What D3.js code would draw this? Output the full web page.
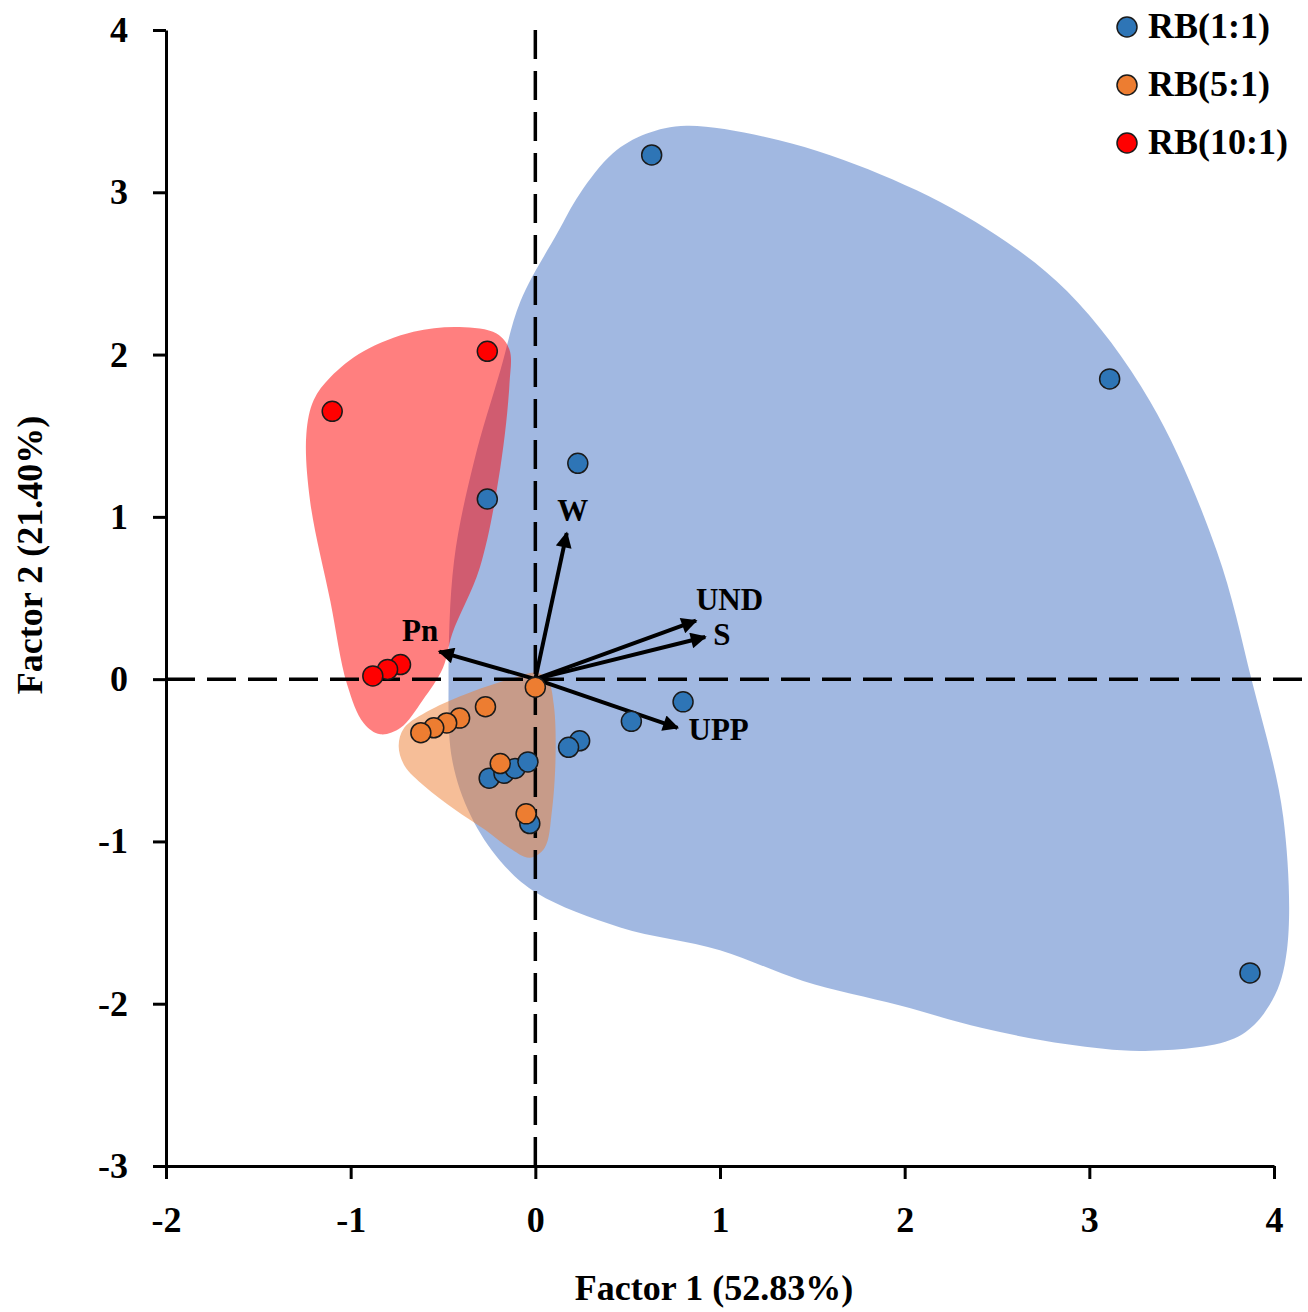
<!DOCTYPE html>
<html>
<head>
<meta charset="utf-8">
<script src="https://cdn.jsdelivr.net/npm/d3@7"></script>
<style>
  body { margin: 0; background: #fff; }
  svg { display: block; }
  text { font-family: "Liberation Serif", "DejaVu Serif", serif; font-weight: bold; fill: #000; }
</style>
</head>
<body>
<div id="chart"></div>
<script>
let w = 1308;
let h = 1312;

// scores, [factor1, factor2]
const rb11 = [
  [0.63, 3.23], [3.11, 1.85], [3.87, -1.81], [0.23, 1.33], [-0.26, 1.11],
  [0.80, -0.14], [0.52, -0.26], [0.24, -0.38], [0.18, -0.42],
  [-0.25, -0.61], [-0.17, -0.58], [-0.11, -0.55], [-0.04, -0.51], [-0.03, -0.89]
];
const rb51 = [
  [0.0, -0.05], [-0.27, -0.17], [-0.41, -0.24], [-0.48, -0.27], [-0.55, -0.30],
  [-0.62, -0.33], [-0.19, -0.52], [-0.05, -0.83]
];
const rb101 = [
  [-0.26, 2.02], [-1.10, 1.65], [-0.73, 0.09], [-0.80, 0.06], [-0.88, 0.02]
];

// hand drawn group outlines
const hull11 = [
  [-0.08, 2.33], [0.12, 2.75], [0.24, 2.99], [0.42, 3.24], [0.60, 3.36], [0.82, 3.41],
  [1.32, 3.32], [1.87, 3.11],
  [2.38, 2.82], [2.88, 2.39], [3.33, 1.71], [3.69, 0.79], [3.88, -0.01], [4.05, -0.85],
  [4.07, -1.67], [3.99, -1.98], [3.81, -2.20], [3.33, -2.29], [2.88, -2.25], [2.42, -2.15],
  [1.97, -2.01], [1.45, -1.86], [1.00, -1.67], [0.46, -1.53], [0.01, -1.32], [-0.19, -1.12],
  [-0.35, -0.84], [-0.45, -0.50], [-0.47, -0.01], [-0.44, 0.73], [-0.33, 1.35], [-0.19, 1.90]
];
const hull101 = [
  [-0.41, 2.17], [-0.21, 2.13], [-0.14, 2.03], [-0.14, 1.82], [-0.19, 1.30], [-0.30, 0.69],
  [-0.45, 0.28], [-0.50, 0.07], [-0.61, -0.13], [-0.73, -0.30], [-0.84, -0.34], [-0.93, -0.27],
  [-1.02, -0.03], [-1.11, 0.48], [-1.22, 1.10], [-1.24, 1.51], [-1.20, 1.72], [-1.11, 1.86],
  [-0.93, 2.02], [-0.66, 2.14]
];
const hull51 = [
  [0.01, 0.04], [0.07, -0.01], [0.10, -0.16], [0.11, -0.44], [0.09, -0.81], [0.05, -1.04],
  [-0.03, -1.10], [-0.14, -1.04], [-0.27, -0.93], [-0.44, -0.80], [-0.60, -0.66], [-0.71, -0.53],
  [-0.74, -0.41], [-0.71, -0.30], [-0.57, -0.19], [-0.35, -0.08], [-0.14, 0.00]
];

// variable loadings
const varNames = ["W", "UND", "S", "UPP", "Pn"];
const varX = [0.17, 0.87, 0.92, 0.77, -0.52];
const varY = [0.90, 0.36, 0.26, -0.30, 0.17];

const xTicks = [-2, -1, 0, 1, 2, 3, 4];
const yTicks = [-3, -2, -1, 0, 1, 2, 3, 4];
const groupNames = ["RB(1:1)", "RB(5:1)", "RB(10:1)"];

const x = d3.scaleLinear().domain([-2, 4]).range([166, 1274]);
const y = d3.scaleLinear().domain([-3, 4]).range([1166, 30]);

let svg = d3.select("#chart").append("svg")
  .attr("width", w)
  .attr("height", h);

let line = d3.line()
  .x(d => x(d[0]))
  .y(d => y(d[1]))
  .curve(d3.curveCatmullRomClosed.alpha(0.5));

// hulls
svg.append("path").attr("d", line(hull11)).attr("fill", "#4472C4").attr("fill-opacity", 0.5);
svg.append("path").attr("d", line(hull101)).attr("fill", "#FF0000").attr("fill-opacity", 0.5);
svg.append("path").attr("d", line(hull51)).attr("fill", "#ED7D31").attr("fill-opacity", 0.5);

// axes
let xAxis = svg.append("g")
  .attr("transform", "translate(0," + y(-3) + ")")
  .call(d3.axisBottom(x).tickValues(xTicks).tickSize(13).tickSizeOuter(0).tickFormat(d => String(d)));
let yAxis = svg.append("g")
  .attr("transform", "translate(" + x(-2) + ",0)")
  .call(d3.axisLeft(y).tickValues(yTicks).tickSize(13).tickSizeOuter(0).tickFormat(d => String(d)));

[xAxis, yAxis].forEach(a => {
  a.selectAll("path, line").attr("stroke", "#000").attr("stroke-width", 3);
  a.selectAll("text").attr("font-size", 36).attr("font-family", null);
});
xAxis.selectAll("text").attr("y", 40);
yAxis.selectAll("text").attr("x", -38);

// zero lines
svg.append("line")
  .attr("x1", x(0)).attr("x2", x(0))
  .attr("y1", y(4)).attr("y2", y(-3))
  .attr("stroke", "#000").attr("stroke-width", 3.5).attr("stroke-dasharray", "29,12");
svg.append("line")
  .attr("x1", x(-2)).attr("x2", 1302)
  .attr("y1", y(0)).attr("y2", y(0))
  .attr("stroke", "#000").attr("stroke-width", 3.5).attr("stroke-dasharray", "29,12");

// loading arrows
svg.append("defs").append("marker")
  .attr("id", "head")
  .attr("markerUnits", "userSpaceOnUse")
  .attr("viewBox", "0 0 10 10")
  .attr("refX", 9).attr("refY", 5)
  .attr("markerWidth", 20).attr("markerHeight", 16)
  .attr("orient", "auto")
  .append("path").attr("d", "M0,0L10,5L0,10z").attr("fill", "#000");

const labelPos = {
  W:   {dx: 6,   dy: -12, anchor: "middle"},
  UND: {dx: 0,   dy: -11, anchor: "start"},
  S:   {dx: 8,   dy: 8,   anchor: "start"},
  UPP: {dx: 11,  dy: 12,  anchor: "start"},
  Pn:  {dx: -1,  dy: -11, anchor: "end"}
};

let loadings = varNames.map((n, i) => ({name: n, x: varX[i], y: varY[i]}));

svg.append("g").selectAll("line")
  .data(loadings)
  .join("line")
    .attr("x1", x(0)).attr("y1", y(0))
    .attr("x2", d => x(d.x)).attr("y2", d => y(d.y))
    .attr("stroke", "#000").attr("stroke-width", 4)
    .attr("marker-end", "url(#head)");

svg.append("g").selectAll("text")
  .data(loadings)
  .join("text")
    .attr("x", d => x(d.x) + labelPos[d.name].dx)
    .attr("y", d => y(d.y) + labelPos[d.name].dy)
    .attr("text-anchor", d => labelPos[d.name].anchor)
    .attr("font-size", 31)
    .text(d => d.name);

// points
const groups = [
  {name: groupNames[0], pts: rb11, color: "#2E75B6"},
  {name: groupNames[1], pts: rb51, color: "#ED7D31"},
  {name: groupNames[2], pts: rb101, color: "#FF0000"}
];
groups.forEach(g => {
  svg.append("g").selectAll("circle")
    .data(g.pts)
    .join("circle")
      .attr("cx", d => x(d[0]))
      .attr("cy", d => y(d[1]))
      .attr("r", 10)
      .attr("fill", g.color)
      .attr("stroke", "#1a1a1a")
      .attr("stroke-width", 1.5);
});

// legend
let legend = svg.append("g").selectAll("g")
  .data(groups)
  .join("g")
    .attr("transform", (d, i) => "translate(1127," + (27 + i * 58) + ")");
legend.append("circle")
  .attr("r", 10)
  .attr("fill", d => d.color)
  .attr("stroke", "#1a1a1a")
  .attr("stroke-width", 1.5);
legend.append("text")
  .attr("x", 21)
  .attr("y", 11)
  .attr("font-size", 36)
  .text(d => d.name);

// axis titles
svg.append("text")
  .attr("x", 714).attr("y", 1300)
  .attr("text-anchor", "middle")
  .attr("font-size", 36)
  .text("Factor 1 (52.83%)");
svg.append("text")
  .attr("transform", "translate(42,555) rotate(-90)")
  .attr("text-anchor", "middle")
  .attr("font-size", 36)
  .text("Factor 2 (21.40%)");
</script>
</body>
</html>
